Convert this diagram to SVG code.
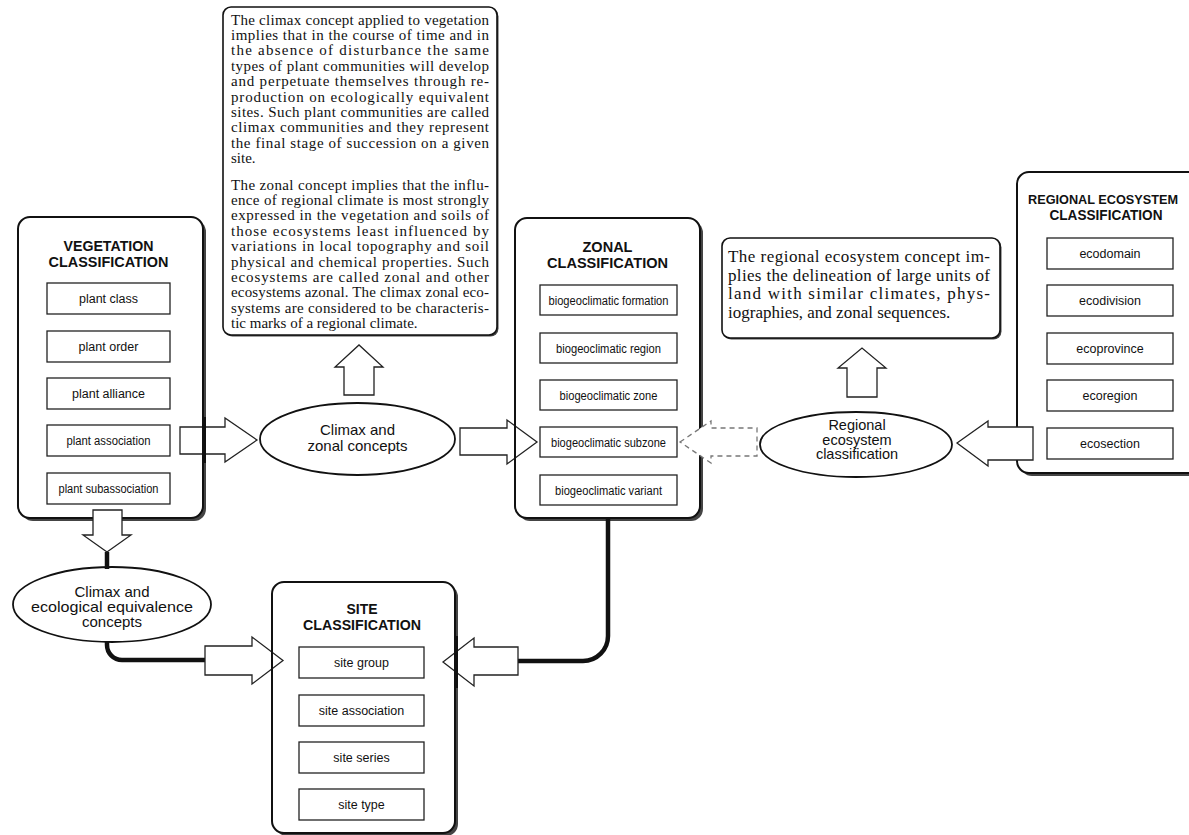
<svg xmlns="http://www.w3.org/2000/svg" width="1189" height="835" viewBox="0 0 1189 835">
  <style>
    .shadow { fill: #444; }
    .frame { fill: #fff; stroke: #111; stroke-width: 2; }
    .item { fill: #fff; stroke: #222; stroke-width: 1.3; }
    .title { font-family: "Liberation Sans", Arial, sans-serif; font-weight: bold; font-size: 15px; text-anchor: middle; fill: #111; }
    .label { font-family: "Liberation Sans", Arial, sans-serif; font-size: 12.5px; text-anchor: middle; fill: #111; }
    .oval { fill: #fff; stroke: #111; stroke-width: 1.8; }
    .otext { font-family: "Liberation Sans", Arial, sans-serif; font-size: 15px; text-anchor: middle; fill: #111; }
    .otext14 { font-family: "Liberation Sans", Arial, sans-serif; font-size: 14.5px; text-anchor: middle; fill: #111; }
    .note { fill: #fff; stroke: #111; stroke-width: 1.6; }
    .para { font-family: "Liberation Serif", "Times New Roman", serif; font-size: 15px; fill: #111; }
    .para17 { font-family: "Liberation Serif", "Times New Roman", serif; font-size: 17px; fill: #111; }
    .block { fill: #fff; stroke: #222; stroke-width: 1.3; stroke-linejoin: miter; }
    .dash { fill: #fff; stroke: #777; stroke-width: 1.3; stroke-dasharray: 5 4; }
    .wire { fill: none; stroke: #111; stroke-width: 4.5; }
    .edge { stroke: #111; fill: none; }
  </style>

  <!-- Vegetation classification -->
  <g id="vegetation-classification">
    <rect class="shadow" x="21" y="220" width="185" height="301" rx="12"/>
    <rect class="frame" x="18" y="217" width="185" height="301" rx="12"/>
    <text class="title" x="108.5" y="251" textLength="90" lengthAdjust="spacingAndGlyphs">VEGETATION</text>
    <text class="title" x="108.5" y="267" textLength="120" lengthAdjust="spacingAndGlyphs">CLASSIFICATION</text>
    <rect class="item" x="47" y="283" width="123" height="31"/>
    <text class="label" x="108.5" y="303">plant class</text>
    <rect class="item" x="47" y="331" width="123" height="31"/>
    <text class="label" x="108.5" y="351">plant order</text>
    <rect class="item" x="47" y="378" width="123" height="31"/>
    <text class="label" x="108.5" y="398">plant alliance</text>
    <rect class="item" x="47" y="425" width="123" height="31"/>
    <text class="label" x="108.5" y="445" textLength="84" lengthAdjust="spacingAndGlyphs">plant association</text>
    <rect class="item" x="47" y="473" width="123" height="31"/>
    <text class="label" x="108.5" y="493" textLength="100" lengthAdjust="spacingAndGlyphs">plant subassociation</text>
  </g>

  <!-- Zonal classification -->
  <g id="zonal-classification">
    <rect class="shadow" x="518" y="221" width="185" height="300" rx="12"/>
    <rect class="frame" x="515" y="218" width="185" height="300" rx="12"/>
    <text class="title" x="607.5" y="252" textLength="50" lengthAdjust="spacingAndGlyphs">ZONAL</text>
    <text class="title" x="607.5" y="268" textLength="121" lengthAdjust="spacingAndGlyphs">CLASSIFICATION</text>
    <rect class="item" x="540" y="285" width="137" height="30"/>
    <text class="label" x="608.5" y="304.5" textLength="120" lengthAdjust="spacingAndGlyphs">biogeoclimatic formation</text>
    <rect class="item" x="540" y="333" width="137" height="30"/>
    <text class="label" x="608.5" y="352.5" textLength="105" lengthAdjust="spacingAndGlyphs">biogeoclimatic region</text>
    <rect class="item" x="540" y="380" width="137" height="30"/>
    <text class="label" x="608.5" y="399.5" textLength="98" lengthAdjust="spacingAndGlyphs">biogeoclimatic zone</text>
    <rect class="item" x="540" y="427" width="137" height="30"/>
    <text class="label" x="608.5" y="446.5" textLength="115" lengthAdjust="spacingAndGlyphs">biogeoclimatic subzone</text>
    <rect class="item" x="540" y="475" width="137" height="30"/>
    <text class="label" x="608.5" y="494.5" textLength="107" lengthAdjust="spacingAndGlyphs">biogeoclimatic variant</text>
  </g>

  <!-- Regional ecosystem classification (runs off the right edge) -->
  <g id="regional-ecosystem-classification">
    <rect class="shadow" x="1020" y="175" width="190" height="301" rx="12"/>
    <rect class="frame" x="1017" y="172" width="190" height="301" rx="12"/>
    <text class="title" x="1103" y="204" style="font-size:13px" textLength="150" lengthAdjust="spacingAndGlyphs">REGIONAL ECOSYSTEM</text>
    <text class="title" x="1106" y="220" textLength="113" lengthAdjust="spacingAndGlyphs">CLASSIFICATION</text>
    <rect class="item" x="1047" y="238" width="126" height="31"/>
    <text class="label" x="1110" y="258">ecodomain</text>
    <rect class="item" x="1047" y="285" width="126" height="31"/>
    <text class="label" x="1110" y="305">ecodivision</text>
    <rect class="item" x="1047" y="333" width="126" height="31"/>
    <text class="label" x="1110" y="353">ecoprovince</text>
    <rect class="item" x="1047" y="380" width="126" height="31"/>
    <text class="label" x="1110" y="400">ecoregion</text>
    <rect class="item" x="1047" y="428" width="126" height="31"/>
    <text class="label" x="1110" y="448">ecosection</text>
  </g>

  <!-- Site classification -->
  <g id="site-classification">
    <rect class="shadow" x="275" y="585" width="183" height="251" rx="12"/>
    <rect class="frame" x="272" y="582" width="183" height="251" rx="12"/>
    <text class="title" x="362" y="614" textLength="31" lengthAdjust="spacingAndGlyphs">SITE</text>
    <text class="title" x="362" y="630" textLength="118" lengthAdjust="spacingAndGlyphs">CLASSIFICATION</text>
    <rect class="item" x="299" y="647" width="125" height="31"/>
    <text class="label" x="361.5" y="667">site group</text>
    <rect class="item" x="299" y="695" width="125" height="31"/>
    <text class="label" x="361.5" y="715">site association</text>
    <rect class="item" x="299" y="742" width="125" height="31"/>
    <text class="label" x="361.5" y="762">site series</text>
    <rect class="item" x="299" y="789" width="125" height="31"/>
    <text class="label" x="361.5" y="809">site type</text>
  </g>

  <!-- Climax and zonal concept note -->
  <g id="climax-zonal-note">
    <rect class="shadow" x="224.5" y="8.5" width="274" height="328" rx="8"/>
    <rect class="note" x="223" y="7" width="274" height="328" rx="8"/>
    <text class="para" x="231" y="24.5" textLength="258" lengthAdjust="spacing">The climax concept applied to vegetation</text>
    <text class="para" x="231" y="39.9" textLength="258" lengthAdjust="spacing">implies that in the course of time and in</text>
    <text class="para" x="231" y="55.3" textLength="258" lengthAdjust="spacing">the absence of disturbance the same</text>
    <text class="para" x="231" y="70.7" textLength="258" lengthAdjust="spacing">types of plant communities will develop</text>
    <text class="para" x="231" y="86.1" textLength="258" lengthAdjust="spacing">and perpetuate themselves through re-</text>
    <text class="para" x="231" y="101.5" textLength="258" lengthAdjust="spacing">production on ecologically equivalent</text>
    <text class="para" x="231" y="116.9" textLength="258" lengthAdjust="spacing">sites. Such plant communities are called</text>
    <text class="para" x="231" y="132.3" textLength="258" lengthAdjust="spacing">climax communities and they represent</text>
    <text class="para" x="231" y="147.7" textLength="258" lengthAdjust="spacing">the final stage of succession on a given</text>
    <text class="para" x="231" y="163.1">site.</text>
    <text class="para" x="231" y="189.5" textLength="258" lengthAdjust="spacing">The zonal concept implies that the influ-</text>
    <text class="para" x="231" y="204.9" textLength="258" lengthAdjust="spacing">ence of regional climate is most strongly</text>
    <text class="para" x="231" y="220.3" textLength="258" lengthAdjust="spacing">expressed in the vegetation and soils of</text>
    <text class="para" x="231" y="235.7" textLength="258" lengthAdjust="spacing">those ecosystems least influenced by</text>
    <text class="para" x="231" y="251.1" textLength="258" lengthAdjust="spacing">variations in local topography and soil</text>
    <text class="para" x="231" y="266.5" textLength="258" lengthAdjust="spacing">physical and chemical properties. Such</text>
    <text class="para" x="231" y="281.9" textLength="258" lengthAdjust="spacing">ecosystems are called zonal and other</text>
    <text class="para" x="231" y="297.3" textLength="258" lengthAdjust="spacing">ecosystems azonal. The climax zonal eco-</text>
    <text class="para" x="231" y="312.7" textLength="258" lengthAdjust="spacing">systems are considered to be characteris-</text>
    <text class="para" x="231" y="328.1">tic marks of a regional climate.</text>
  </g>

  <!-- Regional ecosystem concept note -->
  <g id="regional-note">
    <rect class="shadow" x="723.5" y="239.5" width="278" height="100" rx="8"/>
    <rect class="note" x="722" y="238" width="278" height="100" rx="8"/>
    <text class="para17" x="728" y="262" textLength="262" lengthAdjust="spacing">The regional ecosystem concept im-</text>
    <text class="para17" x="728" y="281" textLength="262" lengthAdjust="spacing">plies the delineation of large units of</text>
    <text class="para17" x="728" y="299" textLength="262" lengthAdjust="spacing">land with similar climates, phys-</text>
    <text class="para17" x="728" y="318">iographies, and zonal sequences.</text>
  </g>

  <!-- Concept ellipses -->
  <g id="climax-zonal-concepts">
    <ellipse class="oval" cx="357.5" cy="439" rx="97.5" ry="36"/>
    <text class="otext" x="357.5" y="435">Climax and</text>
    <text class="otext" x="357.5" y="451">zonal concepts</text>
  </g>
  <g id="climax-equivalence-concepts">
    <ellipse class="oval" cx="112" cy="604.5" rx="99" ry="37.5"/>
    <text class="otext" x="112" y="597">Climax and</text>
    <text class="otext" x="112" y="612" textLength="162" lengthAdjust="spacingAndGlyphs">ecological equivalence</text>
    <text class="otext" x="112" y="627">concepts</text>
  </g>
  <g id="regional-ecosystem-concept">
    <ellipse class="oval" cx="856" cy="444.5" rx="96" ry="32.5"/>
    <text class="otext14" x="857" y="430">Regional</text>
    <text class="otext14" x="857" y="444.5">ecosystem</text>
    <text class="otext14" x="857" y="459">classification</text>
  </g>

  <!-- Connectors: heavy lines and hollow block arrows -->
  <g id="connectors">
    <path class="wire" d="M107,552 V569"/>
    <path class="wire" d="M107,641 V645 A15,15 0 0 0 122,660 H206"/>
    <path class="wire" d="M518,661 H583 A25,25 0 0 0 608,636 V519"/>

    <path class="block" d="M180,427 H225 V418 L257,440 L225,462 V454 H180 Z"/>
    <path class="block" d="M460,428 H507 V420 L537,442 L507,464 V455 H460 Z"/>
    <path class="block" d="M344,395 V367 H335 L359,345 L383,367 H374 V395 Z"/>
    <path class="block" d="M847,397 V368 H838 L862,348 L886,368 H877 V397 Z"/>
    <path class="block" d="M957,443 L988,421 V427 H1033 V460 H988 V466 Z"/>
    <path class="block" d="M93,510 V535 H83 L107,552 L131,535 H122 V510 Z"/>
    <path class="block" d="M205,646 H252 V637 L283,660.5 L252,684 V675 H205 Z"/>
    <path class="block" d="M443,662 L474,638 V647 H518 V675 H474 V686 Z"/>
    <path class="dash" d="M680,442 L711,421 V428 H757 V456 H711 V463 Z"/>
  </g>

  <!-- Frame edges that stay visible where arrows cross them -->
  <g id="frame-edges" class="edge">
    <line x1="204" y1="417" x2="204" y2="463" stroke-width="4"/>
    <line x1="515" y1="419" x2="515" y2="465" stroke-width="2"/>
    <line x1="272" y1="635" x2="272" y2="687" stroke-width="2"/>
    <line x1="456" y1="636" x2="456" y2="688" stroke-width="4"/>
  </g>
</svg>
